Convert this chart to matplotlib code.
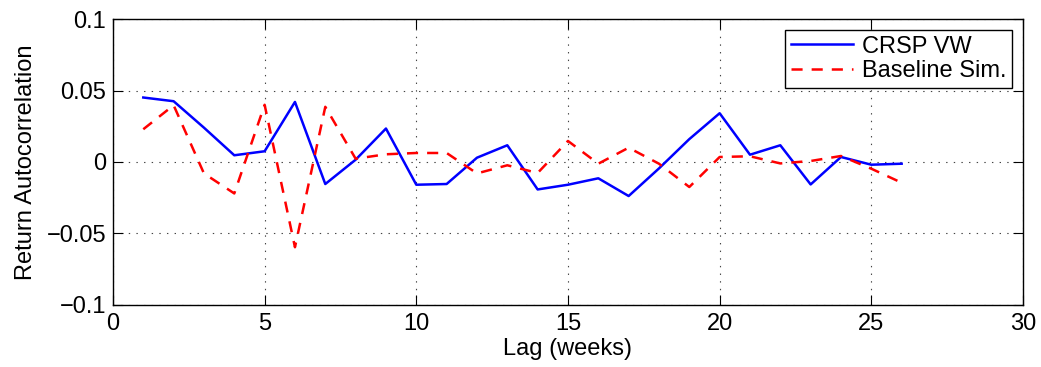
import matplotlib
matplotlib.use("Agg")
import matplotlib.pyplot as plt
import numpy as np

# Lags and autocorrelations
lags = np.arange(1, 27)
crsp_vw = [0.0451, 0.0425, 0.0240, 0.0047, 0.0075, 0.0420, -0.0154, 0.0016,
           0.0234, -0.0159, -0.0154, 0.0030, 0.0117, -0.0192, -0.0159, -0.0114,
           -0.0238, -0.0045, 0.0160, 0.0341, 0.0051, 0.0117, -0.0157, 0.0035,
           -0.0019, -0.0012]
baseline_sim = [0.0229, 0.0397, -0.0080, -0.0220, 0.0400, -0.0596, 0.0386, 0.0023,
                0.0054, 0.0063, 0.0063, -0.0080, -0.0023, -0.0077, 0.0147, -0.0012,
                0.0100, -0.0012, -0.0175, 0.0035, 0.0040, -0.0010, 0.0007, 0.0042,
                -0.0047, -0.0145]

x_ticks = [0, 5, 10, 15, 20, 25, 30]
y_ticks = [-0.1, -0.05, 0, 0.05, 0.1]
y_tick_labels = ["\u22120.1", "\u22120.05", "0", "0.05", "0.1"]

plt.rcParams["font.family"] = ["Liberation Sans", "DejaVu Sans"]
plt.rcParams["lines.scale_dashes"] = False
FS = 17

fig = plt.figure(figsize=(10.41, 3.67), dpi=100)
ax = fig.add_axes([0.1085, 0.169, 0.8742, 0.7792])

ax.plot(lags, crsp_vw, color="#0000ff", linewidth=1.8, label="CRSP VW")
ax.plot(lags, baseline_sim, color="#ff0000", linewidth=1.8,
        linestyle=(0, (8, 6.5)), label="Baseline Sim.")

ax.set_xlim(0, 30)
ax.set_ylim(-0.1, 0.1)
ax.set_xticks(x_ticks)
ax.set_xticklabels([str(t) for t in x_ticks])
ax.set_yticks(y_ticks)
ax.set_yticklabels(y_tick_labels)

ax.tick_params(direction="in", length=7, width=0.8, top=True, right=True,
               labelsize=FS, colors="black")
ax.tick_params(axis="x", pad=6)
ax.tick_params(axis="y", pad=5)
ax.grid(True, linestyle=(0, (1, 4.5)), linewidth=0.8, color="#444444")
for s in ax.spines.values():
    s.set_linewidth(1.0)
    s.set_color("black")

ax.set_xlabel("Lag (weeks)", fontsize=FS, labelpad=2)
ax.set_ylabel("Return Autocorrelation", fontsize=FS, labelpad=7)

leg = ax.legend(loc="upper right", fontsize=FS, fancybox=False, framealpha=1,
                edgecolor="black", handlelength=2.6, borderpad=0.25,
                labelspacing=0.1, handletextpad=0.4, borderaxespad=0.45)
leg.get_frame().set_linewidth(1.0)

fig.savefig("out.png", dpi=100)
